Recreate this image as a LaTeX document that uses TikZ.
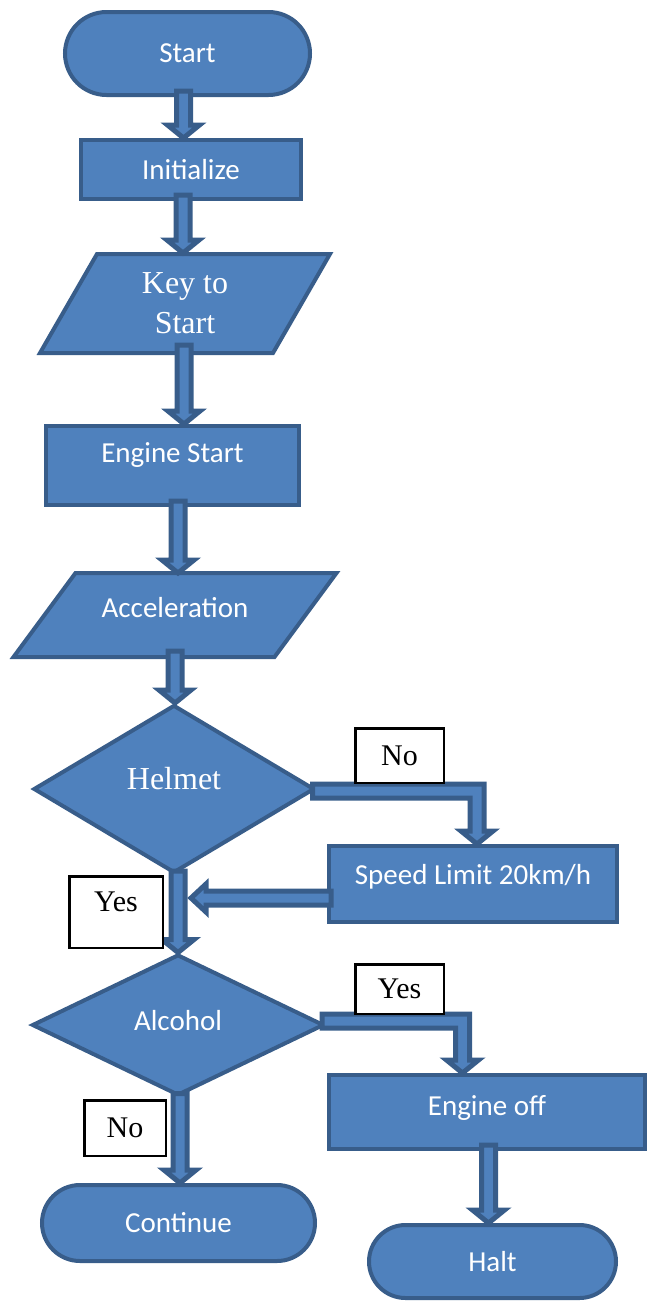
\documentclass[tikz,border=0pt]{standalone}
\usepackage{fontspec}
\setmainfont{Carlito}
\newfontfamily\serifface{Liberation Serif}
\usetikzlibrary{shapes.geometric,calc,backgrounds}
\definecolor{boxfill}{HTML}{4F81BD}
\definecolor{boxline}{HTML}{385D8A}
% block arrow straight down from #1 to the level of #2
\newcommand{\blockdown}[2]{%
  \draw[blockarrow] let \p1=(#1), \p2=(#2) in
    (\x1-7pt,\y1) -- (\x1+7pt,\y1) -- (\x1+7pt,\y2+13pt) -- (\x1+16pt,\y2+13pt)
    -- (\x1,\y2) -- (\x1-16pt,\y2+13pt) -- (\x1-7pt,\y2+13pt) -- cycle;}
% block arrow right from #1, then down to #2
\newcommand{\blockbend}[2]{%
  \draw[blockarrow] let \p1=(#1), \p2=(#2) in
    (\x1,\y1+7pt) -- (\x2+7pt,\y1+7pt) -- (\x2+7pt,\y2+13pt) -- (\x2+16pt,\y2+13pt)
    -- (\x2,\y2) -- (\x2-16pt,\y2+13pt) -- (\x2-7pt,\y2+13pt) -- (\x2-7pt,\y1-7pt)
    -- (\x1,\y1-7pt) -- cycle;}
% block arrow left from #1 to the x of #2
\newcommand{\blockleft}[2]{%
  \draw[blockarrow] let \p1=(#1), \p2=(#2) in
    (\x1,\y1+7pt) -- (\x2+15pt,\y1+7pt) -- (\x2+15pt,\y1+14pt) -- (\x2,\y1)
    -- (\x2+15pt,\y1-14pt) -- (\x2+15pt,\y1-7pt) -- (\x1,\y1-7pt) -- cycle;}
% slanted outline behind node #1, top edge shifted right by #2
\newcommand{\slantbox}[2]{%
  \begin{scope}[on background layer]
    \draw[draw=boxline, fill=boxfill, line width=4pt]
      ($(#1.north west)+(#2/2,0)$) -- ($(#1.north east)+(#2/2,0)$)
      -- ($(#1.south east)+(-#2/2,0)$) -- ($(#1.south west)+(-#2/2,0)$) -- cycle;
  \end{scope}}

\begin{document}
\begin{tikzpicture}[x=1pt, y=-1pt,
  base/.style={
    draw=boxline, fill=boxfill, line width=4pt,
    text=white, inner sep=2pt,
    font=\fontsize{29}{34}\selectfont
  },
  term/.style={base, rectangle},
  proc/.style={base, rectangle},
  io/.style={base, rectangle, draw=none, fill=none},
  decide/.style={base, diamond},
  roman/.style={font=\serifface\fontsize{32}{40}\selectfont},
  tag/.style={
    draw=black, fill=white, line width=2.5pt, inner sep=0pt,
    font=\serifface\fontsize{30}{34}\selectfont
  },
  blockarrow/.style={draw=boxline, fill=boxfill, line width=5pt, line join=miter},
]
  \useasboundingbox (0,0) rectangle (646,1302);

  % main column
  \node[term, minimum width=245, minimum height=83, rounded corners=41.5pt]
    (start) at (187.5,53.5) {Start};
  \node[proc, minimum width=220, minimum height=59] (init) at (191,169.5) {Initialize};
  \node[io, roman, align=center, minimum width=229, minimum height=95]
    (key) at (185,303.5) {Key to\\Start};
  \node[proc, minimum width=253, minimum height=79, text depth=26pt]
    (engstart) at (172.5,465.5) {Engine Start};
  \node[io, minimum width=257, minimum height=80, text depth=16pt]
    (accel) at (175,615) {Acceleration};
  \node[decide, roman, minimum width=281, minimum height=168, text depth=22pt]
    (helmet) at (174,789) {Helmet};
  \node[decide, minimum width=292, minimum height=141, text depth=10pt]
    (alcohol) at (178,1025) {Alcohol};
  \node[term, minimum width=273, minimum height=76, rounded corners=38pt]
    (continue) at (178.5,1223) {Continue};

  % right column
  \node[proc, minimum width=288, minimum height=76, text depth=20pt]
    (speed) at (473,884) {Speed Limit 20km/h};
  \node[proc, minimum width=316, minimum height=74, text depth=14pt]
    (engoff) at (487,1112) {Engine off};
  \node[term, minimum width=247, minimum height=73, rounded corners=36.5pt]
    (halt) at (492.5,1261.5) {Halt};

  \slantbox{key}{57}
  \slantbox{accel}{62}

  \coordinate (merge) at (191,898);

  % connectors
  \blockdown{$(start.south)+(-4,-6)$}{init.north}
  \blockdown{$(init.south)+(-8,-6)$}{$(key.north)+(0,-1)$}
  \blockdown{$(key.south)+(-1,-8)$}{engstart.north}
  \blockdown{$(engstart.south)+(5.5,-6)$}{accel.north}
  \blockdown{$(accel.south)+(0,-6)$}{helmet.north}
  \blockdown{$(helmet.south)+(4,-4)$}{alcohol.north}
  \blockdown{$(alcohol.south)+(2,-4)$}{continue.north}
  \blockdown{$(engoff.south)+(1.5,-6)$}{halt.north}
  \blockbend{$(helmet.east)+(-4,2)$}{$(speed.north)+(4,0)$}
  \blockleft{$(speed.west)+(4,14)$}{merge}
  \blockbend{$(alcohol.east)+(-4,-4)$}{$(engoff.north)+(-24.5,0)$}

  % branch labels
  \node[tag, minimum width=88.5, minimum height=54.5] (nohelmet) at (399.5,755.5) {No};
  \node[tag, minimum width=93.5, minimum height=71.5, text depth=20pt]
    (yeshelmet) at (116,912) {Yes};
  \node[tag, minimum width=88.5, minimum height=49.5] (yesalcohol) at (399.5,989) {Yes};
  \node[tag, minimum width=81.5, minimum height=55.5] (noalcohol) at (125,1128) {No};
\end{tikzpicture}
\end{document}
